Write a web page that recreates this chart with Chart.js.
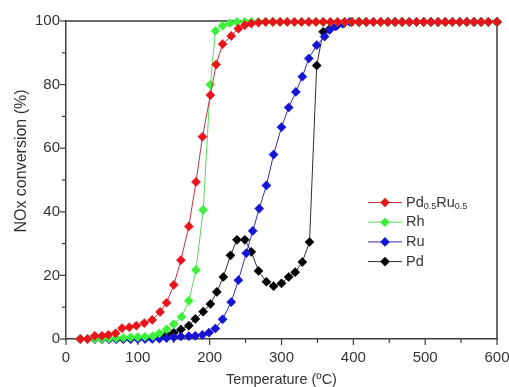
<!DOCTYPE html>
<html>
<head>
<meta charset="utf-8">
<script src="https://cdn.jsdelivr.net/npm/chart.js@4/dist/chart.umd.min.js"></script>
<style>
html,body{margin:0;padding:0;background:#fff;}
#wrap{width:509px;height:387px;position:relative;}
</style>
</head>
<body>
<div id="wrap"><canvas id="c" width="509" height="387"></canvas></div>
<script>
// ---- data ----
const xTicks = [0, 100, 200, 300, 400, 500, 600];
const yTicks = [0, 20, 40, 60, 80, 100];
const xTitle = 'Temperature (ºC)';
const yTitle = 'NOx conversion (%)';

const pdRuLabel = "Pd_{0.5}Ru_{0.5}";
const pdRuTemp = [20,30,40,50,59,69,78,88,98,109,120,131,140,150,160,171,181,190,201,209,218,230,240,249,258,268,278,288,298,308,318,328,338,348,358,368,378,388,398,408,418,428,438,448,458,468,478,488,498,508,518,528,538,548,558,568,578,588,600];
const pdRuConv = [0,0,1,1,1.3,1.8,3.4,3.7,4.2,5,6,8.5,11.4,17,24.8,35.4,49.4,63.6,76.7,86.3,92.7,95.3,97.6,98.7,99.2,99.5,99.7,99.7,99.7,99.7,99.7,99.7,99.7,99.7,99.7,99.7,99.7,99.7,99.7,99.7,99.7,99.7,99.7,99.7,99.7,99.7,99.7,99.7,99.7,99.7,99.7,99.7,99.7,99.7,99.7,99.7,99.7,99.7,99.7];

const rhLabel = "Rh";
const rhTemp = [20,30,40,50,60,70,80,90,100,110,121,130,140,150,161,171,181,191,201,208,218,228,238,249,258,268,278,288,298,308,318,328,338,348,358,368,378,388,398,408,418,428,438,448,458,468,478,488,498,508,518,528,538,548,558,568,578,588,600];
const rhConv = [0,0,0,0,0.2,0.3,0.4,0.5,0.6,0.7,0.9,1.8,3,4.7,7,12,21.7,40.6,80,96.9,98.5,99.3,99.7,99.7,99.7,99.7,99.7,99.7,99.7,99.7,99.7,99.7,99.7,99.7,99.7,99.7,99.7,99.7,99.7,99.7,99.7,99.7,99.7,99.7,99.7,99.7,99.7,99.7,99.7,99.7,99.7,99.7,99.7,99.7,99.7,99.7,99.7,99.7,99.7];

const ruLabel = "Ru";
const ruTemp = [20,30,40,50,60,70,80,90,100,110,120,130,140,150,160,171,180,190,199,208,218,230,240,251,260,269,279,289,300,310,320,329,338,349,360,367,375,385,395,408,418,428,438,448,458,468,478,488,498,508,518,528,538,548,558,568,578,588,600];
const ruConv = [0,0,0,0,0,0,0,0,0,0,0,0.1,0.3,0.5,0.8,0.9,1,1.3,2,3.3,6.2,11.6,18.5,27,34,41,48.3,58,66.6,72.8,77.7,82.5,88.2,92.4,95.1,97.2,98.3,99.2,99.7,99.7,99.7,99.7,99.7,99.7,99.7,99.7,99.7,99.7,99.7,99.7,99.7,99.7,99.7,99.7,99.7,99.7,99.7,99.7,99.7];

const pdLabel = "Pd";
const pdTemp = [20,30,40,50,60,70,80,90,100,110,120,130,140,150,160,171,180,191,201,210,219,229,238,249,258,268,279,289,300,310,319,329,339,349,358,367,377,387,398,408,418,428,438,448,458,468,478,488,498,508,518,528,538,548,558,568,578,588,600];
const pdConv = [0,0,0,0,0,0,0,0,0.2,0.3,0.5,0.8,1.3,2,3,4.2,6.3,8.6,11,14.8,19.5,26.3,31.2,31.2,27.4,21.4,18,16.6,17.5,19.5,21,24.2,30.5,86,96.6,97.5,98.5,99.3,99.7,99.7,99.7,99.7,99.7,99.7,99.7,99.7,99.7,99.7,99.7,99.7,99.7,99.7,99.7,99.7,99.7,99.7,99.7,99.7,99.7];

function pts(t, v){ return t.map((x,i)=>({x:x, y:v[i]})); }

const FONT = "'Liberation Sans', Arial, sans-serif";
const AXIS = '#3c3c3c';
const TXT = '#333';

function mk(label, t, v, col, lineCol){
  return {label:label, data:pts(t,v), borderColor:lineCol, backgroundColor:col,
    pointBackgroundColor:col, pointBorderColor:col, pointStyle:'rectRot',
    pointRadius:4.6, pointBorderWidth:0.5, borderWidth:1, tension:0, clip:false};
}

const framePlugin = {
  id:'frame',
  beforeDatasetsDraw(chart){
    const {ctx, chartArea:a, scales:{x,y}} = chart;
    ctx.save();
    ctx.strokeStyle = AXIS; ctx.lineWidth = 1.5;
    ctx.beginPath();
    ctx.moveTo(a.left, a.top); ctx.lineTo(a.right, a.top); ctx.lineTo(a.right, a.bottom);
    ctx.stroke();
    ctx.lineWidth = 1.2;
    for (let v = 0; v <= 600; v += 50){
      const px = x.getPixelForValue(v);
      const len = (v % 100 === 0) ? 6 : 4;
      ctx.beginPath(); ctx.moveTo(px, a.bottom); ctx.lineTo(px, a.bottom + len); ctx.stroke();
    }
    for (let v = 0; v <= 100; v += 10){
      const py = y.getPixelForValue(v);
      const len = (v % 20 === 0) ? 6 : 4;
      ctx.beginPath(); ctx.moveTo(a.left, py); ctx.lineTo(a.left - len, py); ctx.stroke();
    }
    ctx.fillStyle = TXT;
    ctx.font = '16px ' + FONT;
    ctx.textAlign = 'center'; ctx.textBaseline = 'middle';
    ctx.translate(22, 161);
    ctx.rotate(-Math.PI/2);
    ctx.fillText(yTitle, 0, 0);
    ctx.restore();
  }
};

function drawRich(ctx, text, x, y, size){
  const parts = [];
  const re = /_\{([^}]*)\}/g; let last = 0, m;
  while ((m = re.exec(text))){ if (m.index > last) parts.push([text.slice(last, m.index), false]); parts.push([m[1], true]); last = re.lastIndex; }
  if (last < text.length) parts.push([text.slice(last), false]);
  let cx = x;
  for (const [s, sub] of parts){
    ctx.font = (sub ? Math.round(size*0.62) : size) + 'px ' + FONT;
    ctx.fillText(s, cx, sub ? y + size*0.28 : y);
    cx += ctx.measureText(s).width;
  }
}

const legendPlugin = {
  id:'customLegend',
  afterDatasetsDraw(chart){
    const {ctx} = chart;
    const x0 = 368, x1 = x0 + 34, tx = x1 + 4;
    const y0 = 202.5, dy = 19.7;
    ctx.save();
    chart.data.datasets.forEach((ds, i) => {
      const yy = y0 + i*dy;
      ctx.strokeStyle = ds.borderColor; ctx.lineWidth = 1;
      ctx.beginPath(); ctx.moveTo(x0, yy); ctx.lineTo(x1, yy); ctx.stroke();
      const r = 4.8, cx = (x0 + x1)/2;
      ctx.fillStyle = ds.pointBackgroundColor;
      ctx.beginPath(); ctx.moveTo(cx, yy - r); ctx.lineTo(cx + r, yy); ctx.lineTo(cx, yy + r); ctx.lineTo(cx - r, yy); ctx.closePath(); ctx.fill();
      ctx.fillStyle = TXT; ctx.textBaseline = 'middle'; ctx.textAlign = 'left';
      drawRich(ctx, ds.label, tx, yy, 14.5);
    });
    ctx.restore();
  }
};

new Chart(document.getElementById('c'), {
  type:'line',
  data:{ datasets:[
    mk(pdRuLabel, pdRuTemp, pdRuConv, '#e8141c', '#c4343c'),
    mk(rhLabel, rhTemp, rhConv, '#3cf03c', '#58d858'),
    mk(ruLabel, ruTemp, ruConv, '#1414d2', '#3030b8'),
    mk(pdLabel, pdTemp, pdConv, '#000000', '#303030')
  ]},
  options:{
    responsive:false, animation:false, devicePixelRatio:1,
    layout:{padding:{left:0, right:12, top:21, bottom:0}},
    plugins:{legend:{display:false}, tooltip:{enabled:false}},
    scales:{
      x:{type:'linear', min:0, max:600,
        afterBuildTicks(s){ s.ticks = xTicks.map(v=>({value:v})); },
        grid:{display:false, drawTicks:false}, border:{display:true, color:AXIS, width:1.5},
        ticks:{padding:10, maxRotation:0, color:TXT, font:{family:FONT, size:15}},
        title:{display:true, text:xTitle, color:TXT, font:{family:FONT, size:14.5, lineHeight:1}, padding:{top:0,bottom:0}},
        afterFit(s){ s.height = 48; s.paddingRight = 0; s.paddingLeft = 0; }
      },
      y:{type:'linear', min:0, max:100,
        afterBuildTicks(s){ s.ticks = yTicks.map(v=>({value:v})); },
        grid:{display:false, drawTicks:false}, border:{display:true, color:AXIS, width:1.5},
        ticks:{padding:6, color:TXT, font:{family:FONT, size:15}},
        title:{display:false},
        afterFit(s){ s.width = 66; s.paddingTop = 0; s.paddingBottom = 0; }
      }
    }
  },
  plugins:[framePlugin, legendPlugin]
});
</script>
</body>
</html>
